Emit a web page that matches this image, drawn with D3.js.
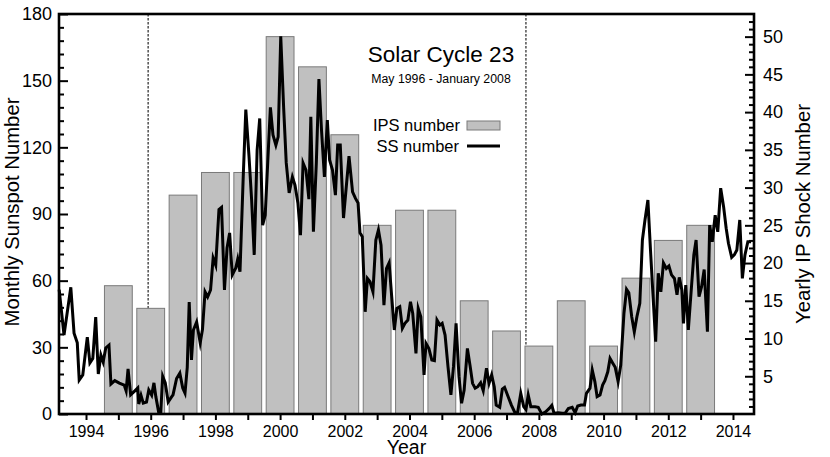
<!DOCTYPE html>
<html><head><meta charset="utf-8">
<script src="https://cdn.jsdelivr.net/npm/d3@7"></script>
<style>
body{margin:0;background:#fff}
svg{display:block}
text{font-family:"Liberation Sans",Arial,Helvetica,sans-serif;fill:#000}
</style>
</head><body>
<svg id="chart" width="830" height="457"></svg>
<script>
// ---- data ----
const ipsYears  = [1995,1996,1997,1998,1999,2000,2001,2002,2003,2004,2005,2006,2007,2008,2009,2010,2011,2012,2013];
const ipsCounts = [17,14,29,32,32,50,46,37,25,27,27,15,11,9,15,9,18,23,25];

const ssYears = [
1993.17,1993.32,1993.53,1993.63,1993.73,1993.79,1993.90,
1994.04,1994.12,1994.21,1994.30,1994.38,1994.46,1994.53,1994.61,1994.71,1994.77,1994.89,
1995.03,1995.18,1995.24,1995.30,1995.38,1995.51,1995.60,1995.63,1995.70,1995.77,1995.87,1995.94,
1996.03,1996.10,1996.16,1996.25,1996.31,1996.37,1996.45,1996.54,1996.64,1996.69,1996.80,1996.90,1996.99,
1997.06,1997.13,1997.19,1997.26,1997.32,1997.42,1997.53,1997.60,1997.68,1997.76,1997.85,1997.93,
1998.01,1998.11,1998.19,1998.28,1998.36,1998.44,1998.52,1998.63,1998.69,1998.76,1998.86,1998.94,
1999.04,1999.12,1999.20,1999.29,1999.37,1999.46,1999.54,1999.62,1999.70,1999.78,1999.87,1999.94,
2000.02,2000.11,2000.19,2000.28,2000.38,2000.46,2000.55,2000.63,2000.71,2000.80,2000.89,2000.95,
2001.03,2001.12,2001.20,2001.28,2001.37,2001.46,2001.53,2001.62,2001.71,2001.78,2001.86,2001.96,
2002.13,2002.24,2002.33,2002.41,2002.47,2002.54,2002.63,2002.70,2002.78,2002.87,2002.96,
2003.04,2003.12,2003.21,2003.29,2003.37,2003.45,2003.53,2003.61,2003.70,2003.78,2003.86,2003.95,
2004.03,2004.10,2004.20,2004.27,2004.35,2004.45,2004.51,2004.60,2004.69,2004.77,2004.85,2004.94,
2005.01,2005.10,2005.19,2005.28,2005.36,2005.44,2005.53,2005.61,2005.69,2005.79,2005.87,2005.95,
2006.03,2006.11,2006.20,2006.28,2006.38,2006.46,2006.54,2006.62,2006.68,2006.79,2006.87,2006.94,
2007.05,2007.15,2007.26,2007.34,2007.44,2007.53,2007.60,2007.67,2007.75,2007.88,2007.98,
2008.09,2008.21,2008.32,2008.40,2008.47,2008.60,2008.72,2008.81,2008.91,
2009.03,2009.12,2009.20,2009.30,2009.41,2009.47,2009.58,2009.65,2009.73,2009.80,2009.89,2009.97,
2010.04,2010.13,2010.20,2010.28,2010.36,2010.45,2010.53,2010.63,2010.71,2010.78,2010.87,2010.95,
2011.03,2011.12,2011.20,2011.28,2011.37,2011.45,2011.53,2011.61,2011.69,2011.77,2011.85,2011.94,
2012.02,2012.10,2012.19,2012.27,2012.34,2012.42,2012.47,2012.54,2012.62,2012.71,2012.79,2012.86,2012.95,
2013.03,2013.11,2013.21,2013.28,2013.36,2013.45,2013.53,2013.62,2013.71,2013.79,2013.86,2013.96,
2014.04,2014.12,2014.21,2014.29,2014.37,2014.46,2014.56
];
const ssValues = [
56,35.5,57,36.4,32,15.3,17.6,
34.6,23,25,43.6,18,26.5,23.4,29.7,31,13.5,15,
13.9,13,10.4,20.3,8.6,10.4,11.7,4.5,8.4,4.9,5.4,10.8,
8.5,14,7.7,0.5,0.5,17,14,5.4,7.6,8.6,16,18.4,11.7,
9.4,21,50.4,24.3,37.8,41.4,32,38,55,52.7,55.8,70.2,
67,92,93,55.8,74.7,81.5,62.6,65.7,69.7,64,106.7,137,
115.7,96.3,71.6,118.8,133,85,89.5,114,138,125.6,121,124.7,
170,137.7,113,99.5,106.7,103,95,80.5,113,109.8,96.7,133.7,
82,113,150.7,127.8,106.7,132.3,114.3,109.8,98.5,121,121,88.2,
116,100,97,95,81.5,79.8,46,61,59.5,55,78.3,
82.8,76,49,65.5,68,52.8,37.8,47.5,48.3,38.6,40.8,42.3,
50.5,45.3,27.3,47.5,43.8,17.6,31.8,29.5,24.3,24,42.3,40,
40.8,35.5,21.3,8.6,21.3,40.8,16.8,4.8,10.8,29.5,22,13.8,
11.6,12.3,14.1,10.5,20.6,13.8,17.6,12.3,4,3,11.2,12,
7.8,4,0.6,0.6,9.3,3.3,2,8.5,3.3,3.3,3,
0,1,2.5,3.9,0.3,0.6,0.3,0.3,2.5,
3,0.6,3.6,4,4,9.3,11.6,19.8,14.6,7.8,8.5,13,
15,19,25,23,21,14.6,22,45.3,56.1,54.6,43.8,37,
43.8,49.8,78.3,87.3,96.3,73.8,52.8,32.5,63.3,55,68,65.5,
66.6,62.6,61,53.6,61.5,55.8,40.8,58,37.8,55.8,71.6,78.3,52.8,
57.3,65,37,85,77.5,89.5,82,101.6,93.3,83.6,76.8,70.5,
71.6,73.8,87.3,61,71.6,77.5,77.5
];

const cycleBounds   = [1995.92, 2007.60];          // May 1996 and January 2008 markers
const leftTicks     = [0,30,60,90,120,150,180];
const leftMinor     = [6,12,18,24,36,42,48,54,66,72,78,84,96,102,108,114,126,132,138,144,156,162,168,174];
const rightTicks    = [5,10,15,20,25,30,35,40,45,50];
const rightMinor    = [1,2,3,4,6,7,8,9,11,12,13,14,16,17,18,19,21,22,23,24,26,27,28,29,31,32,33,34,36,37,38,39,41,42,43,44,46,47,48,49,51,52];
const yearTicks     = [1994,1995,1996,1997,1998,1999,2000,2001,2002,2003,2004,2005,2006,2007,2008,2009,2010,2011,2012,2013,2014];
const yearLabels    = [1994,1996,1998,2000,2002,2004,2006,2008,2010,2012,2014];

// ---- layout ----
const L = 59, R = 754, T = 14, B = 414;
const svg = d3.select("#chart");

const x  = d3.scaleLinear().domain([1993.165, 2014.65]).range([L, R]);
const yL = d3.scaleLinear().domain([0, 180]).range([B, T]);
const yR = d3.scaleLinear().domain([0, 53]).range([B, T]);

// dashed cycle markers (under bars)
svg.append("g").selectAll("line").data(cycleBounds).join("line")
  .attr("x1", d => x(d)).attr("x2", d => x(d))
  .attr("y1", T).attr("y2", B)
  .attr("stroke", "#111").attr("stroke-width", 1.1)
  .attr("stroke-dasharray", "2.5,1.5");

// bars
const barHalf = 0.43;
svg.append("g").selectAll("rect").data(ipsYears).join("rect")
  .attr("x", d => x(d - barHalf))
  .attr("width", d => x(d + barHalf) - x(d - barHalf))
  .attr("y", (d, i) => yR(ipsCounts[i]))
  .attr("height", (d, i) => B - yR(ipsCounts[i]))
  .attr("fill", "#c0c0c0").attr("stroke", "#7a7a7a").attr("stroke-width", 1);

// sunspot line
const pts = ssYears.map((yr, i) => [yr, ssValues[i]]);
svg.append("path").datum(pts)
  .attr("d", d3.line().x(d => x(d[0])).y(d => yL(d[1])))
  .attr("fill", "none").attr("stroke", "#000").attr("stroke-width", 3)
  .attr("stroke-linejoin", "miter").attr("stroke-miterlimit", 6);

// axes
function styleAxis(g, fontSize) {
  g.select(".domain").remove();
  g.selectAll(".tick line").attr("stroke", "#000").attr("stroke-width", 2);
  g.selectAll(".tick text").attr("font-size", fontSize).attr("font-family", '"Liberation Sans",Arial,sans-serif').attr("fill", "#000");
}

svg.append("g").attr("transform", `translate(${L},0)`)
  .call(d3.axisLeft(yL).tickValues(leftMinor).tickSize(-5).tickFormat(""))
  .call(g => styleAxis(g, 18));
svg.append("g").attr("transform", `translate(${L},0)`)
  .call(d3.axisLeft(yL).tickValues(leftTicks).tickSize(-9).tickPadding(7))
  .call(g => styleAxis(g, 18));

svg.append("g").attr("transform", `translate(${R},0)`)
  .call(d3.axisRight(yR).tickValues(rightMinor).tickSize(-5).tickFormat(""))
  .call(g => styleAxis(g, 18));
svg.append("g").attr("transform", `translate(${R},0)`)
  .call(d3.axisRight(yR).tickValues(rightTicks).tickSize(-9).tickPadding(9))
  .call(g => styleAxis(g, 18));

svg.append("g").attr("transform", `translate(0,${B})`)
  .call(d3.axisBottom(x).tickValues(yearTicks).tickSize(6).tickPadding(6)
        .tickFormat(d => yearLabels.includes(d) ? String(d) : ""))
  .call(g => styleAxis(g, 16));

// frame
svg.append("rect").attr("x", L).attr("y", T).attr("width", R - L).attr("height", B - T)
  .attr("fill", "none").attr("stroke", "#000").attr("stroke-width", 2.6);

// axis titles
svg.append("text").attr("transform", "translate(18.5,212) rotate(-90)")
  .attr("text-anchor", "middle").attr("font-size", 20.3).text("Monthly Sunspot Number");
svg.append("text").attr("transform", "translate(810,214) rotate(-90)")
  .attr("text-anchor", "middle").attr("font-size", 20.3).text("Yearly IP Shock Number");
svg.append("text").attr("x", (L + R) / 2).attr("y", 453.5)
  .attr("text-anchor", "middle").attr("font-size", 19.5).text("Year");

// title
svg.append("text").attr("x", 441).attr("y", 61.5).attr("text-anchor", "middle")
  .attr("font-size", 22.5).text("Solar Cycle 23");
svg.append("text").attr("x", 441).attr("y", 82.5).attr("text-anchor", "middle")
  .attr("font-size", 12.3).text("May 1996 - January 2008");

// legend
const lg = svg.append("g");
lg.append("text").attr("x", 460).attr("y", 130.5).attr("text-anchor", "end")
  .attr("font-size", 16.5).text("IPS number");
lg.append("rect").attr("x", 467).attr("y", 121).attr("width", 33).attr("height", 9)
  .attr("fill", "#c0c0c0").attr("stroke", "#7a7a7a").attr("stroke-width", 1);
lg.append("text").attr("x", 459).attr("y", 151.5).attr("text-anchor", "end")
  .attr("font-size", 16.5).text("SS number");
lg.append("line").attr("x1", 467).attr("x2", 500).attr("y1", 146).attr("y2", 146)
  .attr("stroke", "#000").attr("stroke-width", 3);
</script>
</body></html>
